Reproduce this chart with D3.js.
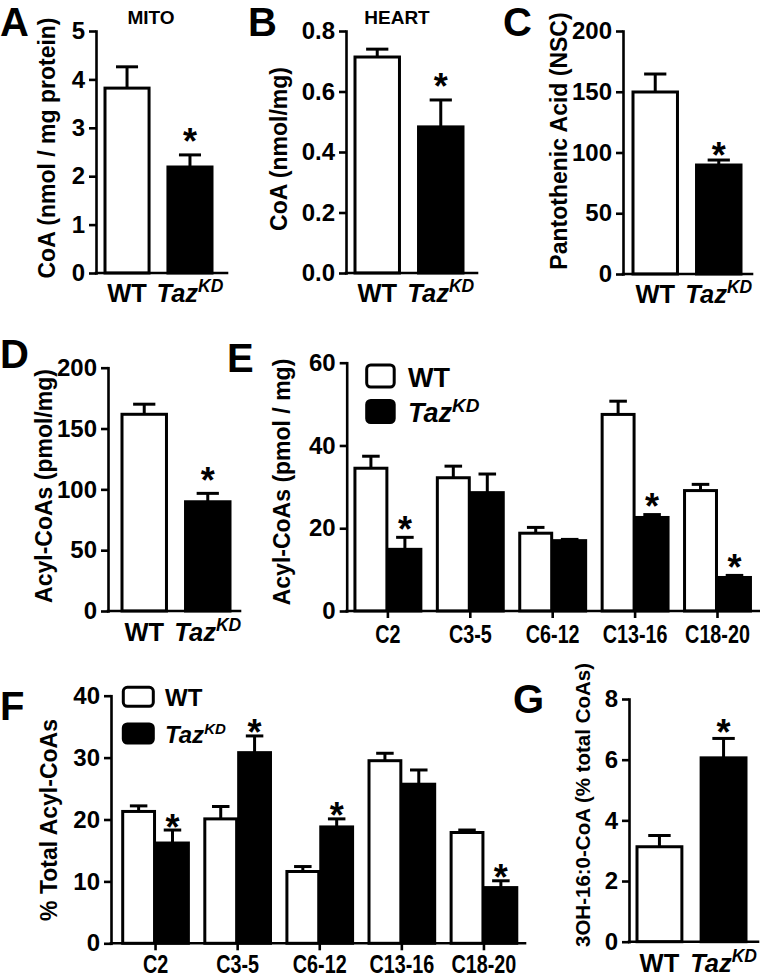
<!DOCTYPE html>
<html><head><meta charset="utf-8">
<script src="https://cdn.jsdelivr.net/npm/d3@7"></script>
<style>
body{margin:0;background:#fff;}
svg{display:block;}
text{font-family:"Liberation Sans",Arial,Helvetica,sans-serif;font-weight:bold;fill:#000;}
</style></head><body>
<svg id="fig" width="760" height="978"></svg>
<script>
// ---------------- DATA ----------------
const genotypes = ["WT", "TazKD"];

const mitoCoA = [3.82, 2.19];
const mitoCoAErr = [0.44, 0.25];
const mitoTicks = [0, 1, 2, 3, 4, 5];

const heartCoA = [0.714, 0.483];
const heartCoAErr = [0.026, 0.089];
const heartTicks = [0, 0.2, 0.4, 0.6, 0.8];

const pantothenic = [149.8, 89.7];
const pantothenicErr = [14.8, 4.1];
const pantoTicks = [0, 50, 100, 150, 200];

const totalAcyl = [161.7, 89.8];
const totalAcylErr = [8.3, 6.9];
const totalAcylTicks = [0, 50, 100, 150, 200];

const chainClasses = ["C2", "C3-5", "C6-12", "C13-16", "C18-20"];
const acylWT = [34.5, 32.2, 18.8, 47.5, 29.1];
const acylWTErr = [2.9, 2.8, 1.4, 3.2, 1.5];
const acylKD = [14.9, 28.6, 17.0, 22.6, 8.1];
const acylKDErr = [2.9, 4.5, 0.3, 0.7, 0.5];
const acylSig = [true, false, false, true, true];
const acylTicks = [0, 20, 40, 60];

const pctWT = [21.3, 20.1, 11.6, 29.5, 17.9];
const pctWTErr = [0.9, 2.0, 0.8, 1.2, 0.4];
const pctKD = [16.2, 30.8, 18.8, 25.7, 9.0];
const pctKDErr = [2.1, 2.7, 1.3, 2.3, 1.1];
const pctSig = [true, true, true, false, true];
const pctTicks = [0, 10, 20, 30, 40];

const ohCoA = [3.13, 6.06];
const ohCoAErr = [0.37, 0.64];
const ohTicks = [0, 2, 4, 6, 8];

// ---------------- DRAW ----------------
const svg = d3.select("#fig");
const SW = 3;          // bar / error stroke
const AXW = 2.6;       // axis stroke
const TICKFS = 24;
const YLABFS = 23;

function styleAxis(g) {
  g.selectAll("path.domain").attr("stroke", "#000").attr("stroke-width", AXW).attr("stroke-linecap", "square");
  g.selectAll(".tick line").attr("stroke", "#000").attr("stroke-width", AXW);
  g.selectAll(".tick text").attr("font-family", '"Liberation Sans",Arial,sans-serif')
    .attr("font-weight", "bold").attr("fill", "#000");
}

function letter(t, x, y) {
  svg.append("text").attr("x", x).attr("y", y).attr("font-size", 40).text(t);
}

function ylabel(t, x, y, opts = {}) {
  svg.append("text")
    .attr("transform", `translate(${x},${y}) rotate(-90)`)
    .attr("text-anchor", "middle")
    .attr("font-size", opts.size || YLABFS)
    .attr("font-weight", opts.weight || "bold")
    .text(t);
}

function genoLabel(sel, fs, supfs, supdy) {
  sel.each(function (d) {
    const t = d3.select(this);
    t.text(null);
    if (d === "WT") {
      t.append("tspan").text("WT");
    } else {
      t.append("tspan").attr("font-style", "italic").text("Taz");
      t.append("tspan").attr("font-style", "italic").attr("font-size", supfs).attr("dy", supdy).text("KD");
    }
  }).attr("font-size", fs);
}

function yAxis(g, y, ticks, fmt, x) {
  const ax = d3.axisLeft(y).tickValues(ticks).tickFormat(fmt).tickSize(7).tickSizeOuter(0).tickPadding(4);
  const a = g.append("g").attr("transform", `translate(${x},0)`).call(ax);
  a.selectAll(".tick text").attr("font-size", TICKFS);
  styleAxis(a);
  return a;
}

function errBar(g, cx, yv, ye, cw) {
  g.append("line").attr("x1", cx).attr("x2", cx).attr("y1", yv).attr("y2", ye)
    .attr("stroke", "#000").attr("stroke-width", SW);
  g.append("line").attr("x1", cx - cw / 2).attr("x2", cx + cw / 2).attr("y1", ye).attr("y2", ye)
    .attr("stroke", "#000").attr("stroke-width", SW);
}

function star(g, cx, ye, gap) {
  const fs = 36;
  g.append("text").attr("x", cx).attr("y", ye - gap + 0.57 * fs)
    .attr("text-anchor", "middle").attr("font-size", fs).text("*");
}

function simplePanel(cfg, values, errs, ticks, fmt) {
  const g = svg.append("g");
  const y = d3.scaleLinear().domain([0, ticks[ticks.length - 1]]).range([cfg.y0, cfg.yTop]);
  const x = d3.scaleBand().domain(genotypes).range(cfg.barRange).paddingInner(0.3);
  genotypes.forEach((k, i) => {
    const bx = x(k), bw = x.bandwidth(), cx = bx + bw / 2;
    errBar(g, cx, y(values[i]), y(values[i] + errs[i]), bw * 0.5);
    g.append("rect").attr("x", bx).attr("y", y(values[i])).attr("width", bw)
      .attr("height", cfg.y0 - y(values[i]))
      .attr("fill", i === 0 ? "#fff" : "#000").attr("stroke", "#000").attr("stroke-width", SW);
    if (i === 1) star(g, cx, y(values[i] + errs[i]), cfg.starGap);
  });
  const xa = g.append("g").attr("transform", `translate(0,${cfg.y0})`)
    .call(d3.axisBottom(x).tickSize(0).tickSizeOuter(0).tickPadding(cfg.labPad));
  xa.select("path.domain").attr("d", `M${cfg.axisX},0H${cfg.axisEnd}`);
  styleAxis(xa);
  genoLabel(xa.selectAll(".tick text").attr("dy", null).attr("y", cfg.labPad), 25.5, 17.5, -10);
  yAxis(g, y, ticks, fmt, cfg.axisX);
  letter(cfg.letter, cfg.lx, cfg.ly);
  ylabel(cfg.ylab, cfg.ylx, cfg.yly, cfg.ylabOpts || {});
  if (cfg.title) {
    svg.append("text").attr("x", cfg.tx).attr("y", cfg.ty).attr("text-anchor", "middle")
      .attr("font-size", 19).text(cfg.title);
  }
}

function groupedPanel(cfg, wt, wtE, kd, kdE, sig, ticks) {
  const g = svg.append("g");
  const y = d3.scaleLinear().domain([0, ticks[ticks.length - 1]]).range([cfg.y0, cfg.yTop]);
  const x0 = d3.scaleBand().domain(chainClasses).range(cfg.groupRange).paddingInner(0.2).paddingOuter(0.1);
  const x1 = d3.scaleBand().domain(genotypes).range([0, x0.bandwidth()]).paddingInner(0.06);
  chainClasses.forEach((c, j) => {
    [[wt, wtE], [kd, kdE]].forEach(([v, e], i) => {
      const bx = x0(c) + x1(genotypes[i]), bw = x1.bandwidth(), cx = bx + bw / 2;
      errBar(g, cx, y(v[j]), y(v[j] + e[j]), bw * 0.55);
      g.append("rect").attr("x", bx).attr("y", y(v[j])).attr("width", bw)
        .attr("height", cfg.y0 - y(v[j]))
        .attr("fill", i === 0 ? "#fff" : "#000").attr("stroke", "#000").attr("stroke-width", SW);
      if (i === 1 && sig[j]) star(g, cx, y(v[j] + e[j]), cfg.starGap);
    });
  });
  const xa = g.append("g").attr("transform", `translate(0,${cfg.y0})`)
    .call(d3.axisBottom(x0).tickSize(7).tickSizeOuter(0).tickPadding(4));
  xa.select("path.domain").attr("d", `M${cfg.axisX},0H${cfg.groupRange[1]}`);
  styleAxis(xa);
  xa.selectAll(".tick text").attr("dy", null).attr("y", null)
    .attr("transform", `translate(0,${cfg.labBase}) scale(0.76,1)`)
    .attr("font-size", 26);
  yAxis(g, y, ticks, d3.format("d"), cfg.axisX);
  letter(cfg.letter, cfg.lx, cfg.ly);
  ylabel(cfg.ylab, cfg.ylx, cfg.yly);
  const L = cfg.legend;
  const lg = svg.append("g");
  genotypes.forEach((k, i) => {
    lg.append("rect").attr("x", L.x).attr("y", L.ys[i]).attr("width", L.w).attr("height", L.h)
      .attr("rx", 4).attr("fill", i === 0 ? "#fff" : "#000").attr("stroke", "#000").attr("stroke-width", SW);
  });
  lg.selectAll("text.leg").data(genotypes).join("text").attr("class", "leg")
    .attr("x", L.tx).attr("y", (d, i) => L.tys[i])
    .call(s => genoLabel(s, L.fs, L.supfs, L.supdy));
}

// Panel A
simplePanel({letter: "A", lx: 0, ly: 36, title: "MITO", tx: 151, ty: 24,
  axisX: 96, axisEnd: 227, y0: 273, yTop: 31, barRange: [105, 212], labPad: 29, starGap: 21,
  ylab: "CoA (nmol / mg protein)", ylx: 55, yly: 148}, mitoCoA, mitoCoAErr, mitoTicks, d3.format("d"));

// Panel B
simplePanel({letter: "B", lx: 248, ly: 36, title: "HEART", tx: 397, ty: 24,
  axisX: 346, axisEnd: 477, y0: 273, yTop: 31, barRange: [355, 463], labPad: 29, starGap: 21,
  ylab: "CoA (nmol/mg)", ylx: 287, yly: 149}, heartCoA, heartCoAErr, heartTicks, d3.format(".1f"));

// Panel C
simplePanel({letter: "C", lx: 503, ly: 36,
  axisX: 623, axisEnd: 752, y0: 274, yTop: 31, barRange: [633, 741], labPad: 29, starGap: 13,
  ylab: "Pantothenic Acid (NSC)", ylx: 567, yly: 141}, pantothenic, pantothenicErr, pantoTicks, d3.format("d"));

// Panel D
simplePanel({letter: "D", lx: 0, ly: 368,
  axisX: 108, axisEnd: 240, y0: 611, yTop: 367.7, barRange: [122, 230], labPad: 30, starGap: 21,
  ylab: "Acyl-CoAs (pmol/mg)", ylx: 52, yly: 486}, totalAcyl, totalAcylErr, totalAcylTicks, d3.format("d"));

// Panel E
groupedPanel({letter: "E", lx: 227, ly: 372,
  axisX: 346.7, groupRange: [346.7, 758.7], y0: 611, yTop: 362.7, labBase: 32, starGap: 16,
  ylab: "Acyl-CoAs (pmol / mg)", ylx: 290, yly: 482,
  legend: {x: 366.7, ys: [365, 400.5], w: 27.5, h: 22, tx: 408, tys: [386.5, 421.5], fs: 27, supfs: 19, supdy: -10}},
  acylWT, acylWTErr, acylKD, acylKDErr, acylSig, acylTicks);

// Panel F
groupedPanel({letter: "F", lx: 0, ly: 720,
  axisX: 111, groupRange: [114.5, 525], y0: 943.3, yTop: 695.7, labBase: 30, starGap: 11,
  ylab: "% Total Acyl-CoAs", ylx: 57, yly: 820,
  legend: {x: 123.3, ys: [687.3, 724], w: 30, h: 19, tx: 165, tys: [706, 743], fs: 24, supfs: 15, supdy: -9}},
  pctWT, pctWTErr, pctKD, pctKDErr, pctSig, pctTicks);

// Panel G
simplePanel({letter: "G", lx: 513, ly: 713,
  axisX: 629, axisEnd: 758, y0: 941.7, yTop: 699, barRange: [637, 746], labPad: 30, starGap: 14,
  ylab: "3OH-16:0-CoA (% total CoAs)", ylx: 590, yly: 805, ylabOpts: {size: 20.5, weight: "normal"}},
  ohCoA, ohCoAErr, ohTicks, d3.format("d"));
</script>
</body></html>
